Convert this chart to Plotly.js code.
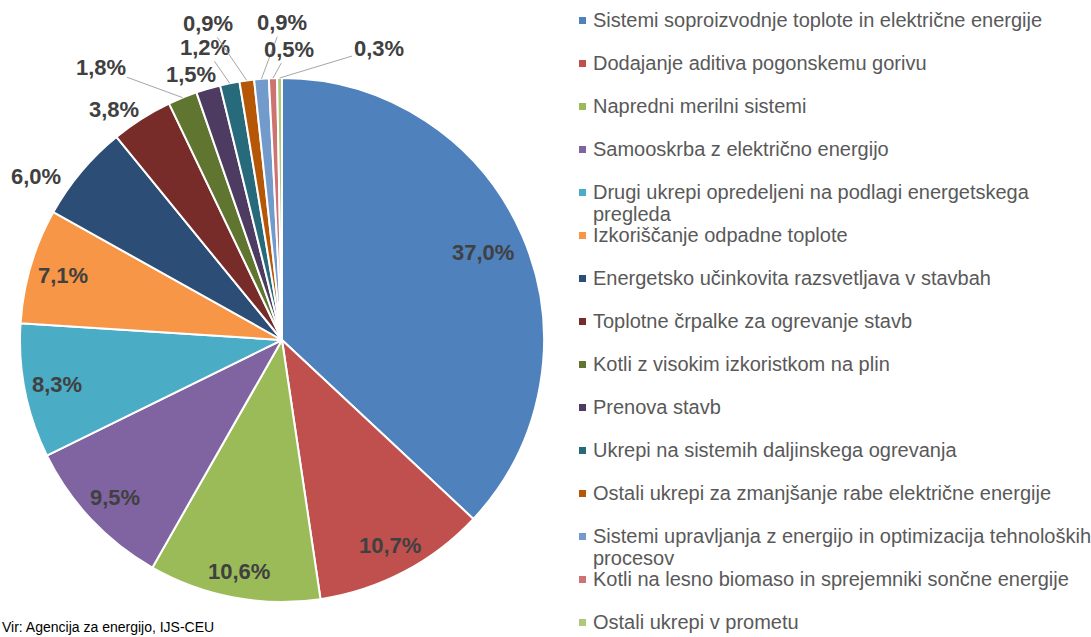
<!DOCTYPE html>
<html>
<head>
<meta charset="utf-8">
<script src="https://cdn.plot.ly/plotly-3.0.1.min.js"></script>
<style>html,body{margin:0;padding:0;background:#fff;}#chart{width:1091px;height:637px;}</style>
</head>
<body>
<div id="chart"></div>
<script>
// ---- data ----
const categories = [
  "Sistemi soproizvodnje toplote in električne energije",
  "Dodajanje aditiva pogonskemu gorivu",
  "Napredni merilni sistemi",
  "Samooskrba z električno energijo",
  "Drugi ukrepi opredeljeni na podlagi energetskega<br>pregleda",
  "Izkoriščanje odpadne toplote",
  "Energetsko učinkovita razsvetljava v stavbah",
  "Toplotne črpalke za ogrevanje stavb",
  "Kotli z visokim izkoristkom na plin",
  "Prenova stavb",
  "Ukrepi na sistemih daljinskega ogrevanja",
  "Ostali ukrepi za zmanjšanje rabe električne energije",
  "Sistemi upravljanja z energijo in optimizacija tehnoloških<br>procesov",
  "Kotli na lesno biomaso in sprejemniki sončne energije",
  "Ostali ukrepi v prometu"
];
const shares = [37.0, 10.7, 10.6, 9.5, 8.3, 7.1, 6.0, 3.8, 1.8, 1.5, 1.2, 0.9, 0.9, 0.5, 0.3];
const sourceNote = "Vir: Agencija za energijo, IJS-CEU";

// ---- style ----
const colors = ["#4F81BD","#C0504D","#9BBB59","#8064A2","#4BACC6","#F79646",
                "#2C4D75","#772C2A","#5F7530","#4D3B62","#276A7C","#B65708",
                "#729ACA","#CD7371","#AFC97A"];
const W = 1091, H = 637;
const CX = 282, CY = 340, R = 262;
// label placement (pixel offsets from slice's outer edge midpoint) for outside labels
const outsidePlacement = {
  6: {dx: -45, dy: 5, leader: false},
  7: {dx: -28, dy: -9, leader: false},
  8: {dx: -82, dy: -30, leader: true},
  9: {dx: -17, dy: -14, leader: false},
  10: {dx: -25, dy: -36, leader: true},
  11: {dx: -39, dy: -57, leader: true},
  12: {dx: 21, dy: -56, leader: true},
  13: {dx: 16, dy: -29, leader: true},
  14: {dx: 99, dy: -30, leader: true}
};
const insideRadius = [0.835, 0.885, 0.9, 0.875, 0.875, 0.87];

const px = x => x / W;
const py = y => 1 - y / H;
const fmt = v => v.toFixed(1).replace('.', ',') + '%';

const trace = {
  type: 'pie',
  values: shares,
  labels: categories,
  sort: false,
  direction: 'clockwise',
  rotation: 0,
  textinfo: 'none',
  textposition: 'none',
  hoverinfo: 'skip',
  marker: {colors: colors, line: {color: '#ffffff', width: 2}},
  domain: {x: [px(CX - R), px(CX + R)], y: [py(CY + R), py(CY - R)]},
  showlegend: false
};

const annotations = [];
const shapes = [];
const total = shares.reduce((a, b) => a + b, 0);
let cum = 0;
shares.forEach((v, i) => {
  const mid = (cum + v / 2) / total * 2 * Math.PI;
  cum += v;
  const s = Math.sin(mid), c = Math.cos(mid);
  const labelFont = {family: 'Liberation Sans, Arial, sans-serif', size: 22, color: '#404040'};
  if (i < insideRadius.length) {
    const f = insideRadius[i];
    annotations.push({
      xref: 'paper', yref: 'paper',
      x: px(CX + R * f * s), y: py(CY - R * f * c),
      text: '<b>' + fmt(v) + '</b>', showarrow: false, font: labelFont,
      xanchor: 'center', yanchor: 'middle'
    });
  } else {
    const p = outsidePlacement[i];
    const ex = CX + R * s, ey = CY - R * c;
    if (p.leader) {
      annotations.push({
        xref: 'paper', yref: 'paper', x: px(ex), y: py(ey),
        text: '<b>' + fmt(v) + '</b>', font: labelFont,
        showarrow: true, arrowhead: 0, arrowwidth: 1, arrowcolor: '#a6a6a6',
        ax: p.dx, ay: p.dy, standoff: 0
      });
    } else {
      annotations.push({
        xref: 'paper', yref: 'paper', x: px(ex + p.dx), y: py(ey + p.dy),
        text: '<b>' + fmt(v) + '</b>', font: labelFont, showarrow: false,
        xanchor: 'center', yanchor: 'middle'
      });
    }
  }
});

// custom legend
const LEG_X = 579, LEG_TX = 591, LEG_Y0 = 20, LEG_STEP = 43, LINE_H = 22;
categories.forEach((name, i) => {
  const y = LEG_Y0 + LEG_STEP * i;
  shapes.push({
    type: 'rect', xref: 'paper', yref: 'paper',
    x0: px(LEG_X), x1: px(LEG_X + 7), y0: py(y + 4), y1: py(y - 3),
    fillcolor: colors[i], line: {width: 0}
  });
  name.split('<br>').forEach((line, k) => {
    annotations.push({
      xref: 'paper', yref: 'paper', x: px(LEG_TX), y: py(y + k * LINE_H),
      text: line, showarrow: false, xanchor: 'left', yanchor: 'middle',
      font: {family: 'Liberation Sans, Arial, sans-serif', size: 20, color: '#595959'}
    });
  });
});

annotations.push({
  xref: 'paper', yref: 'paper', x: 0, y: 0,
  text: sourceNote, showarrow: false, xanchor: 'left', yanchor: 'bottom',
  font: {family: 'Liberation Sans, Arial, sans-serif', size: 14, color: '#000000'}
});

const layout = {
  width: W, height: H,
  margin: {l: 0, r: 0, t: 0, b: 0},
  paper_bgcolor: '#ffffff', plot_bgcolor: '#ffffff',
  showlegend: false,
  annotations: annotations,
  shapes: shapes
};

Plotly.newPlot('chart', [trace], layout, {displayModeBar: false, staticPlot: true});
</script>
</body>
</html>
